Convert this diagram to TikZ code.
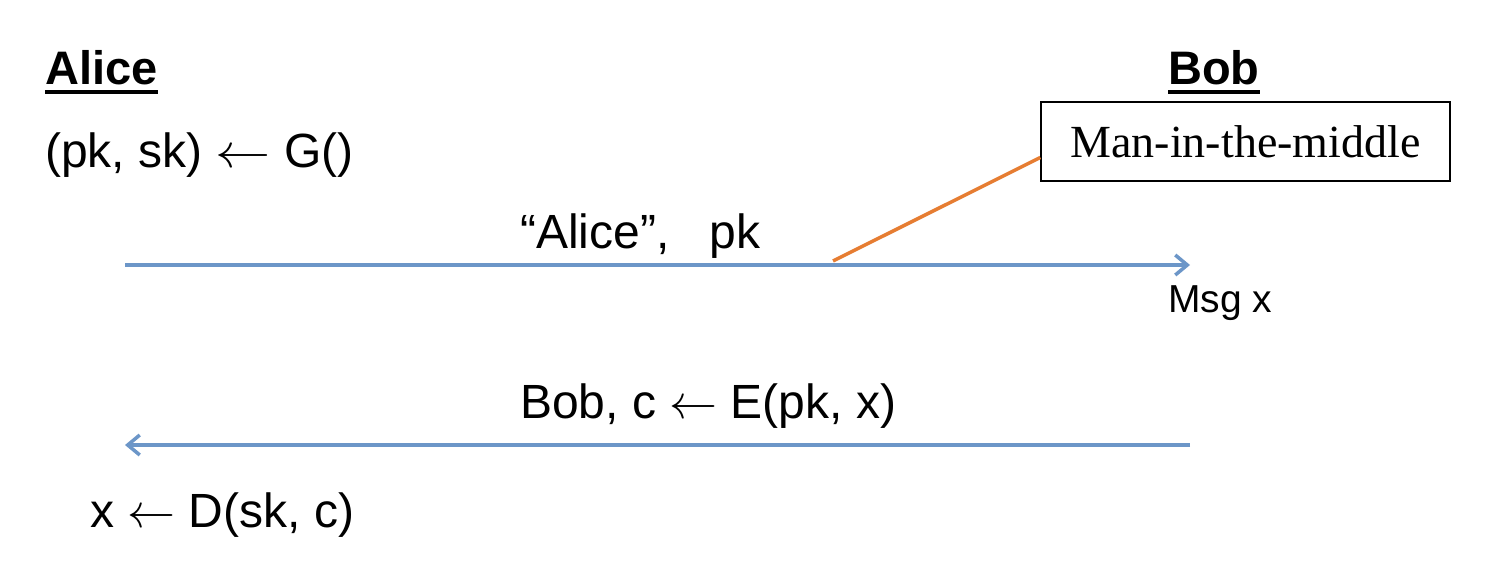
\documentclass[tikz,border=0pt]{standalone}
\usepackage{fix-cm}
\usepackage{fontspec}
\setmainfont{Liberation Sans}
\newfontfamily\boxfont{Liberation Serif}
\usepackage{xcolor}
\usetikzlibrary{arrows.meta}

\definecolor{msgblue}{RGB}{108,150,200}
\definecolor{mitmorange}{RGB}{230,125,50}

\newcommand{\getsarrow}{\ensuremath{\leftarrow}}

\tikzset{
    txt/.style={anchor=base west, inner sep=0pt, font=\fontsize{48}{57}\selectfont},
    party/.style={anchor=base west, inner sep=0pt, font=\bfseries\fontsize{47}{56}\selectfont},
    msgline/.style={draw=msgblue, line width=3.5pt, -{Straight Barb[length=12pt,width=20pt]}},
    mitmbox/.style={draw, line width=1.5pt, minimum width=409pt, minimum height=79pt, inner sep=0pt, font=\boxfont\fontsize{46}{54}\selectfont}
}

\begin{document}
\begin{tikzpicture}[x=1pt, y=-1pt]
    \useasboundingbox (0,0) rectangle (1496,582);

    % Parties
    \node[party] (alice) at (45,84) {Alice};
    \node[party] (bob) at (1168,84) {Bob};
    \draw[line width=4pt] ([yshift=-8pt]alice.base west) -- ([yshift=-8pt]alice.base east);
    \draw[line width=4pt] ([yshift=-8pt]bob.base west) -- ([yshift=-8pt]bob.base east);

    % Key generation
    \node[txt] (keygen) at (45,167) {(pk, sk) \scalebox{1.15}[1]{\getsarrow} G()};

    % First message
    \coordinate (s1) at (125,265);
    \coordinate (e1) at (1190,265);
    \draw[msgline] (s1) -- (e1);
    \node[txt] (lbl1) at (520,248) {“Alice”,\ \ \ pk};
    \node[txt, font=\fontsize{39}{47}\selectfont] (msgx) at (1168,312) {Msg x};

    % Second message
    \coordinate (s2) at (1190,445);
    \coordinate (e2) at (125,445);
    \draw[msgline] (s2) -- (e2);
    \node[txt] (lbl2) at (520,418) {Bob, c \getsarrow{} E(pk, x)};
    \node[txt] (dec) at (90,527) {x \getsarrow{} D(sk, c)};

    % Man in the middle
    \node[mitmbox] (mitm) at (1245.5,141.5) {Man-in-the-middle};
    \coordinate (tap) at (833,261);
    \draw[mitmorange, line width=3.5pt] (tap) -- ([yshift=-16pt]mitm.west);

\end{tikzpicture}
\end{document}
